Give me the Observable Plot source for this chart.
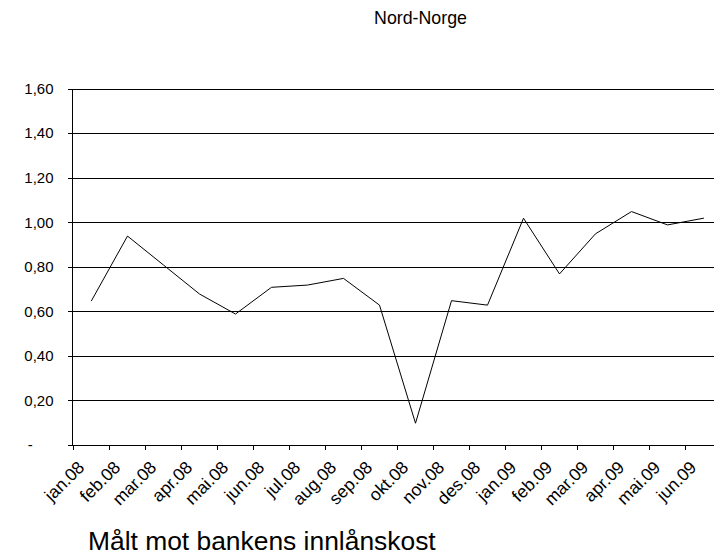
<!DOCTYPE html>
<html><head><meta charset="utf-8">
<script src="https://cdn.jsdelivr.net/npm/d3@7"></script>
<script src="https://cdn.jsdelivr.net/npm/@observablehq/plot@0.6"></script>
<style>
html,body{margin:0;padding:0;background:#fff;overflow:hidden;}
#wrap{position:relative;width:714px;height:554px;overflow:hidden;font-family:"Liberation Sans",Arial,sans-serif;color:#000;}
#title{position:absolute;left:420.5px;top:10px;transform:translateX(-50%);font-size:17.8px;line-height:17.8px;white-space:nowrap;}
#caption{position:absolute;left:88px;top:527.5px;font-size:26.4px;line-height:26.4px;white-space:nowrap;}
#chart{position:absolute;left:0;top:0;}
#chart svg{max-width:none !important;}
</style></head><body>
<div id="wrap"><div id="chart"></div><div id="title"></div><div id="caption"></div></div>
<script>
const titleText = "Nord-Norge";
const captionText = "Målt mot bankens innlånskost";
const months = ["jan.08","feb.08","mar.08","apr.08","mai.08","jun.08","jul.08","aug.08","sep.08","okt.08","nov.08","des.08","jan.09","feb.09","mar.09","apr.09","mai.09","jun.09"];
const values = [0.65,0.94,0.81,0.68,0.59,0.71,0.72,0.75,0.63,0.10,0.65,0.63,1.02,0.77,0.95,1.05,0.99,1.02];
const yTicks = [0,0.2,0.4,0.6,0.8,1.0,1.2,1.4,1.6];
const yTickLabels = ["-\u00a0\u00a0\u00a0\u00a0\u00a0","0,20","0,40","0,60","0,80","1,00","1,20","1,40","1,60"];

document.getElementById("title").textContent = titleText;
document.getElementById("caption").textContent = captionText;

const data = months.map((m, i) => ({month: m, value: values[i]}));
const W = 721, H = 520, ML = 72, MR = 0, MT = 88.5, MB = 75;
const step = (W - ML - MR) / months.length;

const plot = Plot.plot({
  width: W, height: H,
  marginLeft: ML, marginRight: MR, marginTop: MT, marginBottom: MB,
  style: {fontFamily: "Liberation Sans, Arial, sans-serif", fontSize: "15px", color: "#000", background: "transparent", overflow: "visible", maxWidth: "none"},
  x: {type: "band", domain: months, padding: 0, axis: null},
  y: {domain: [0, 1.6], axis: null},
  marks: [
    Plot.gridY(yTicks, {stroke: "#000", strokeOpacity: 1, shapeRendering: "crispEdges"}),
    Plot.frame({anchor: "left", stroke: "#000", shapeRendering: "crispEdges"}),
    Plot.frame({anchor: "bottom", stroke: "#000", shapeRendering: "crispEdges"}),
    Plot.axisY(yTicks, {tickSize: 4, tickPadding: 15, tickFormat: d => yTickLabels[yTicks.indexOf(d)], fontSize: 15, label: null, shapeRendering: "crispEdges"}),
    Plot.axisX(months, {tickSize: 5, fill: "none", dx: -step / 2, label: null, shapeRendering: "crispEdges"}),
    Plot.text(months, {x: d => d, frameAnchor: "bottom", text: d => d, rotate: -45, textAnchor: "end", dx: -6, dy: 23, fontSize: 17.5}),
    Plot.line(data, {x: "month", y: "value", stroke: "#000", strokeWidth: 1})
  ]
});
document.getElementById("chart").appendChild(plot);
</script>
</body></html>
